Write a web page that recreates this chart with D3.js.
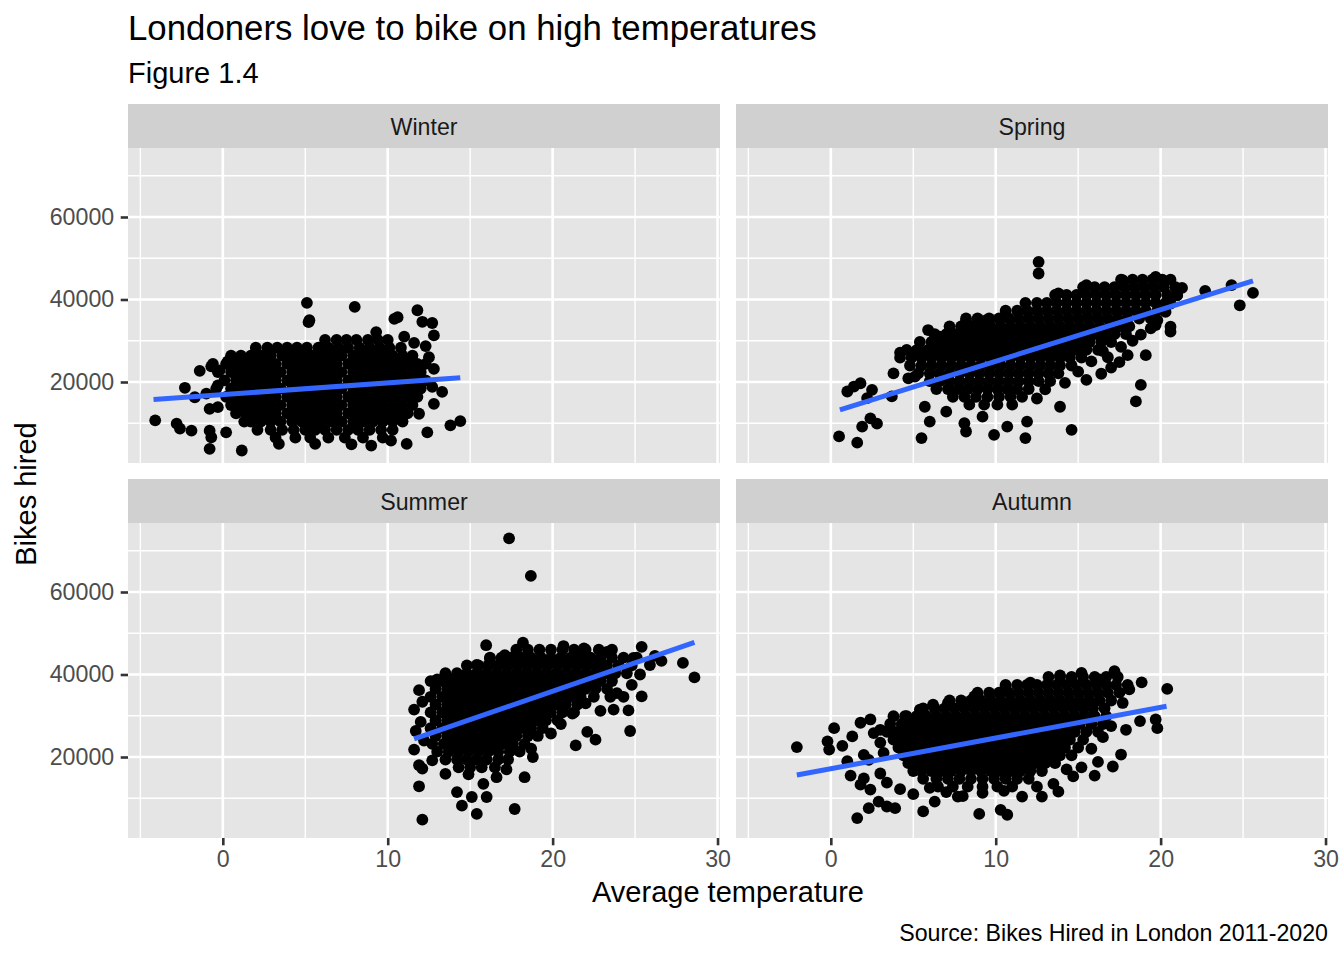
<!DOCTYPE html>
<html><head><meta charset="utf-8">
<script src="https://cdn.jsdelivr.net/npm/d3@7"></script>
<style>body{margin:0;background:#fff} text{font-family:"Liberation Sans",Arial,Helvetica,sans-serif}</style>
</head><body><svg id="chart" width="1344" height="960"></svg>
<script>
const seasons = ["Winter", "Spring", "Summer", "Autumn"];
const xTicks = [0, 10, 20, 30];
const xMinor = [-5, 5, 15, 25];
const yTicks = [20000, 40000, 60000];
const yMinor = [10000, 30000, 50000, 70000];
const xDomain = [-5.75, 30.15];
const yDomain = [364, 76727];

// Dense cores, read row by row: [bikes hired, [temperatures...]]
const winterRows = [
  [30200, [6.2, 6.9, 7.5, 8.1, 8.8, 9.4, 10.0]],
  [28300, [2.0, 2.7, 3.3, 3.9, 4.5, 5.1, 5.8, 6.4, 7.0, 7.6, 8.3, 8.9, 9.5, 10.1, 10.8]],
  [26400, [0.5, 1.1, 1.7, 2.3, 2.9, 3.6, 4.2, 4.8, 5.4, 6.0, 6.6, 7.2, 7.9, 8.5, 9.1, 9.7, 10.3, 10.9, 11.5]],
  [24400, [-0.6, 0.2, 0.8, 1.4, 2.0, 2.6, 3.2, 3.9, 4.5, 5.1, 5.7, 6.3, 6.9, 7.6, 8.2, 8.8, 9.4, 10.0, 10.6, 11.2, 11.8, 12.3]],
  [22400, [-0.3, 0.5, 1.1, 1.7, 2.3, 2.9, 3.5, 4.2, 4.8, 5.4, 6.0, 6.6, 7.2, 7.9, 8.5, 9.1, 9.7, 10.3, 10.9, 11.5, 12.0]],
  [20400, [0.1, 0.8, 1.4, 2.0, 2.6, 3.2, 3.9, 4.5, 5.1, 5.7, 6.3, 6.9, 7.6, 8.2, 8.8, 9.4, 10.0, 10.6, 11.2, 11.8, 12.3]],
  [18400, [-0.4, 0.5, 1.1, 1.7, 2.3, 2.9, 3.5, 4.2, 4.8, 5.4, 6.0, 6.6, 7.2, 7.9, 8.5, 9.1, 9.7, 10.3, 10.9, 11.5, 12.0]],
  [16400, [0.2, 0.8, 1.4, 2.0, 2.6, 3.2, 3.9, 4.5, 5.1, 5.7, 6.3, 6.9, 7.6, 8.2, 8.8, 9.4, 10.0, 10.6, 11.2, 11.8]],
  [14400, [0.5, 1.1, 1.7, 2.3, 2.9, 3.5, 4.2, 4.8, 5.4, 6.0, 6.6, 7.2, 7.9, 8.5, 9.1, 9.7, 10.3, 10.9, 11.5]],
  [12400, [0.8, 1.4, 2.0, 2.6, 3.2, 3.9, 4.5, 5.1, 5.7, 6.3, 6.9, 7.6, 8.2, 8.8, 9.4, 10.0, 10.6, 11.2]],
  [10400, [1.3, 1.7, 2.3, 2.9, 3.5, 4.2, 4.8, 5.4, 6.0, 6.6, 7.2, 7.9, 8.5, 9.1, 9.7, 10.3, 10.9]],
  [8400, [2.1, 2.9, 3.6, 4.3, 5.0, 5.6, 6.2, 6.9, 7.6, 8.2, 8.9, 9.6, 10.3]],
  [6500, [3.2, 4.4, 5.3, 6.4, 7.4, 8.5, 9.7]]
];
const winterSpread = [
  [-4.1, 10700], [-2.8, 9900], [-2.6, 8700], [-1.9, 8200], [-2.3, 18600], [-1.4, 22700],
  [-1.7, 16300], [-1.0, 17200], [-0.8, 8200], [-0.7, 6600], [-0.8, 3800], [1.15, 3400],
  [-0.7, 23800], [-0.2, 22800], [0.3, 25000], [-0.3, 19200], [-0.8, 13500], [-0.3, 13900],
  [0.2, 7800], [5.1, 39200], [5.25, 35000], [5.2, 34500], [8.0, 38200], [11.8, 37400],
  [10.4, 35300], [10.6, 35700], [12.1, 34600], [12.7, 34300], [12.8, 31300], [9.3, 32100],
  [13.8, 9500], [14.4, 10500], [13.3, 17600], [12.7, 18800], [12.8, 14700], [12.4, 7800],
  [11.9, 12300], [11.15, 5000], [12.8, 23200], [12.5, 26000], [11.5, 16800], [3.4, 5000],
  [5.6, 5000], [7.8, 4900], [9.0, 4600], [10.2, 5800], [11.0, 31000], [11.6, 29500], [12.3, 28700]
];

const springRows = [
  [44800, [17.6, 18.3, 18.9, 19.5, 20.1, 20.6]],
  [43000, [15.3, 16.0, 16.6, 17.2, 17.8, 18.4, 19.0, 19.6, 20.2, 20.9]],
  [41100, [13.6, 14.3, 14.9, 15.5, 16.1, 16.7, 17.3, 17.9, 18.5, 19.1, 19.7, 20.4, 21.0]],
  [39200, [11.8, 12.5, 13.1, 13.7, 14.3, 14.9, 15.5, 16.1, 16.7, 17.3, 17.9, 18.5, 19.1, 19.7, 20.3]],
  [37300, [10.6, 11.3, 11.9, 12.5, 13.1, 13.7, 14.3, 14.9, 15.5, 16.1, 16.7, 17.3, 17.9, 18.5, 19.1, 19.8]],
  [35400, [8.2, 8.9, 9.6, 10.2, 10.8, 11.4, 12.0, 12.6, 13.2, 13.8, 14.4, 15.0, 15.6, 16.2, 16.8, 17.4, 18.0, 18.7, 19.4]],
  [33500, [7.2, 7.9, 8.5, 9.1, 9.7, 10.3, 10.9, 11.5, 12.1, 12.7, 13.3, 13.9, 14.5, 15.1, 15.7, 16.3, 16.9, 17.5, 18.1]],
  [31600, [6.3, 7.0, 7.6, 8.2, 8.8, 9.4, 10.0, 10.6, 11.2, 11.8, 12.4, 13.0, 13.6, 14.2, 14.8, 15.4, 16.0, 16.6, 17.2, 17.9]],
  [29700, [5.4, 6.1, 6.7, 7.3, 7.9, 8.5, 9.1, 9.7, 10.3, 10.9, 11.5, 12.1, 12.7, 13.3, 13.9, 14.5, 15.1, 15.7, 16.4, 17.0]],
  [27800, [4.6, 5.3, 5.9, 6.5, 7.1, 7.7, 8.3, 8.9, 9.5, 10.1, 10.7, 11.3, 11.9, 12.5, 13.1, 13.7, 14.3, 14.9, 15.5, 16.2]],
  [25900, [4.2, 4.9, 5.5, 6.1, 6.7, 7.3, 7.9, 8.5, 9.1, 9.7, 10.3, 10.9, 11.5, 12.1, 12.7, 13.3, 13.9, 14.5, 15.2]],
  [24000, [4.8, 5.5, 6.1, 6.7, 7.3, 7.9, 8.5, 9.1, 9.7, 10.3, 10.9, 11.5, 12.1, 12.7, 13.3, 13.9, 14.6]],
  [22100, [5.3, 6.0, 6.6, 7.2, 7.8, 8.4, 9.0, 9.6, 10.2, 10.8, 11.4, 12.0, 12.6, 13.2, 13.8]],
  [20200, [6.0, 6.6, 7.2, 7.8, 8.4, 9.0, 9.6, 10.2, 10.8, 11.4, 12.0, 12.6, 13.3]],
  [18300, [6.4, 7.1, 7.7, 8.3, 8.9, 9.5, 10.1, 10.7, 11.3, 12.0]],
  [16400, [7.4, 8.1, 8.8, 9.5, 10.2, 10.9, 11.6]],
  [14500, [8.4, 9.3, 10.1, 11.0]]
];
const springSpread = [
  [12.6, 49100], [12.6, 46300], [22.7, 42100], [24.3, 43500], [25.6, 41600], [24.8, 38600],
  [20.6, 33400], [20.6, 32200], [19.7, 33800], [19.1, 26500], [18.8, 19300], [18.5, 15300],
  [0.5, 6800], [1.6, 5300], [1.9, 9200], [2.4, 11200], [2.8, 9900], [1.0, 17700], [1.4, 18900],
  [1.8, 19700], [2.5, 18100], [2.2, 16100], [3.7, 16500], [3.8, 22100], [4.2, 27100], [4.7, 20900],
  [5.1, 21300], [5.2, 27700], [5.9, 32600], [6.6, 31000], [5.5, 6400], [5.7, 14000], [6.0, 10400],
  [7.0, 12800], [8.1, 10000], [8.2, 8000], [9.2, 11600], [9.9, 7200], [10.7, 9200], [11.8, 6400],
  [11.9, 10400], [13.9, 14000], [14.6, 8400], [8.2, 34800], [9.3, 34800], [13.8, 41500],
  [15.5, 43500], [17.7, 44700], [19.7, 45500], [15.5, 20500], [16.4, 22000], [17.0, 23500],
  [17.5, 24800], [18.0, 26500], [16.8, 26000], [17.6, 28500], [18.3, 30000], [18.8, 31500],
  [19.4, 33000], [19.8, 35000], [20.3, 37000], [20.6, 39000], [21.0, 41000], [21.3, 42800],
  [12.5, 16000], [13.0, 18200], [14.2, 19800], [15.0, 22500], [15.8, 25000], [16.5, 27500]
];

const summerRows = [
  [46000, [17.8, 18.5, 19.2, 19.9, 20.6, 21.3, 22.0, 22.8, 23.6]],
  [44100, [16.2, 16.9, 17.5, 18.1, 18.7, 19.3, 19.9, 20.5, 21.1, 21.7, 22.3, 22.9, 23.6, 24.3, 25.1]],
  [42200, [14.8, 15.5, 16.1, 16.7, 17.3, 17.9, 18.5, 19.1, 19.7, 20.3, 20.9, 21.5, 22.1, 22.7, 23.3, 24.0, 24.8]],
  [40300, [13.5, 14.2, 14.8, 15.4, 16.0, 16.6, 17.2, 17.8, 18.4, 19.0, 19.6, 20.2, 20.8, 21.4, 22.0, 22.6, 23.2, 23.8, 24.5]],
  [38400, [12.6, 13.3, 13.9, 14.5, 15.1, 15.7, 16.3, 16.9, 17.5, 18.1, 18.7, 19.3, 19.9, 20.5, 21.1, 21.7, 22.3, 22.9, 23.6]],
  [36500, [12.9, 13.6, 14.2, 14.8, 15.4, 16.0, 16.6, 17.2, 17.8, 18.4, 19.0, 19.6, 20.2, 20.8, 21.4, 22.0, 22.6, 23.3]],
  [34600, [12.6, 13.3, 13.9, 14.5, 15.1, 15.7, 16.3, 16.9, 17.5, 18.1, 18.7, 19.3, 19.9, 20.5, 21.1, 21.7, 22.5, 23.5, 24.3]],
  [32700, [12.9, 13.6, 14.2, 14.8, 15.4, 16.0, 16.6, 17.2, 17.8, 18.4, 19.0, 19.6, 20.2, 20.8, 21.5]],
  [30800, [12.6, 13.3, 13.9, 14.5, 15.1, 15.7, 16.3, 16.9, 17.5, 18.1, 18.7, 19.3, 19.9, 20.6, 21.3]],
  [28900, [12.9, 13.6, 14.2, 14.8, 15.4, 16.0, 16.6, 17.2, 17.8, 18.4, 19.0, 19.6, 20.3]],
  [27000, [12.6, 13.3, 13.9, 14.5, 15.1, 15.7, 16.3, 16.9, 17.5, 18.1, 18.7, 19.4]],
  [25100, [12.9, 13.6, 14.2, 14.8, 15.4, 16.0, 16.6, 17.2, 17.8, 18.5, 19.1]],
  [23200, [12.7, 13.4, 14.0, 14.6, 15.2, 15.8, 16.4, 17.0, 17.6, 18.3]],
  [21300, [13.0, 13.7, 14.3, 14.9, 15.5, 16.1, 16.7, 17.4, 18.0]],
  [19400, [13.5, 14.2, 14.8, 15.4, 16.0, 16.7, 17.3]],
  [17500, [14.3, 15.0, 15.7, 16.5]]
];
const summerSpread = [
  [17.36, 73000], [18.68, 63900], [15.97, 47100], [18.2, 47700], [20.66, 46900], [21.9, 46300],
  [23.3, 45500], [25.4, 46700], [27.9, 42800], [28.6, 39300], [26.6, 43300], [25.9, 42300],
  [25.4, 34700], [24.7, 26300], [22.6, 24200], [22.1, 26100], [21.4, 22800], [22.9, 31200],
  [23.7, 31500], [24.6, 31300], [11.9, 36200], [12.1, 33400], [11.6, 31500], [11.7, 26300],
  [11.6, 21800], [11.9, 18000], [12.1, 17200], [11.9, 12900], [12.1, 4800], [13.0, 38800],
  [13.8, 38800], [12.7, 19200], [13.5, 15900], [14.2, 11500], [14.5, 8200], [15.4, 6200],
  [15.1, 10300], [16.0, 10300], [15.8, 13500], [16.6, 15100], [17.7, 7400], [18.3, 15100],
  [18.8, 20000], [19.9, 25700], [15.4, 42300], [16.2, 43900], [17.1, 44700], [12.2, 24000],
  [12.0, 28500], [20.5, 28000], [21.2, 30500], [22.0, 33000], [23.9, 35500], [24.8, 37500],
  [25.3, 40000], [26.2, 44500], [24.9, 44000], [14.9, 15800], [17.2, 17000], [18.7, 22000]
];

const autumnRows = [
  [39400, [13.2, 13.9, 14.6, 15.3, 16.0, 16.7, 17.4]],
  [37500, [10.6, 11.3, 11.9, 12.5, 13.1, 13.7, 14.3, 14.9, 15.5, 16.1, 16.7, 17.3, 18.0]],
  [35600, [8.9, 9.6, 10.2, 10.8, 11.4, 12.0, 12.6, 13.2, 13.8, 14.4, 15.0, 15.6, 16.2, 16.8, 17.5]],
  [33700, [7.2, 7.9, 8.5, 9.1, 9.7, 10.3, 10.9, 11.5, 12.1, 12.7, 13.3, 13.9, 14.5, 15.1, 15.7, 16.3, 17.0]],
  [31800, [5.6, 6.3, 6.9, 7.5, 8.1, 8.7, 9.3, 9.9, 10.5, 11.1, 11.7, 12.3, 12.9, 13.5, 14.1, 14.7, 15.3, 15.9, 16.6]],
  [29900, [4.5, 5.2, 5.8, 6.4, 7.0, 7.6, 8.2, 8.8, 9.4, 10.0, 10.6, 11.2, 11.8, 12.4, 13.0, 13.6, 14.2, 14.8, 15.4, 16.0, 16.7]],
  [28000, [3.6, 4.3, 4.9, 5.5, 6.1, 6.7, 7.3, 7.9, 8.5, 9.1, 9.7, 10.3, 10.9, 11.5, 12.1, 12.7, 13.3, 13.9, 14.5, 15.1, 15.8, 16.5]],
  [26100, [3.4, 4.0, 4.6, 5.2, 5.8, 6.4, 7.0, 7.6, 8.2, 8.8, 9.4, 10.0, 10.6, 11.2, 11.8, 12.4, 13.0, 13.6, 14.2, 14.8, 15.5, 16.2]],
  [24200, [3.8, 4.3, 4.9, 5.5, 6.1, 6.7, 7.3, 7.9, 8.5, 9.1, 9.7, 10.3, 10.9, 11.5, 12.1, 12.7, 13.3, 13.9, 14.5, 15.3]],
  [22300, [4.1, 4.6, 5.2, 5.8, 6.4, 7.0, 7.6, 8.2, 8.8, 9.4, 10.0, 10.6, 11.2, 11.8, 12.4, 13.0, 13.6, 14.2, 15.0]],
  [20400, [4.4, 4.9, 5.5, 6.1, 6.7, 7.3, 7.9, 8.5, 9.1, 9.7, 10.3, 10.9, 11.5, 12.1, 12.7, 13.3, 13.9, 14.6]],
  [18500, [4.7, 5.2, 5.8, 6.4, 7.0, 7.6, 8.2, 8.8, 9.4, 10.0, 10.6, 11.2, 11.8, 12.4, 13.0, 13.6]],
  [16600, [5.0, 5.5, 6.1, 6.7, 7.3, 7.9, 8.5, 9.1, 9.7, 10.3, 10.9, 11.5, 12.1, 12.8]],
  [14700, [5.6, 6.4, 7.1, 7.8, 8.5, 9.2, 9.9, 10.6, 11.3, 12.0]],
  [12800, [6.5, 7.4, 8.3, 9.2, 10.1, 11.0]]
];
const autumnSpread = [
  [-2.06, 22400], [0.2, 27000], [-0.2, 23800], [-0.1, 21800], [0.7, 22700], [1.2, 15500],
  [1.6, 5200], [2.3, 7600], [2.9, 9200], [3.4, 8000], [3.9, 7600], [1.8, 13300], [2.4, 12100],
  [1.3, 25000], [1.8, 28300], [2.4, 29100], [3.0, 26600], [2.3, 19300], [3.8, 29900], [5.6, 6800],
  [6.3, 9200], [7.7, 10400], [9.0, 6200], [10.3, 7200], [10.7, 6000], [11.6, 10400], [12.8, 10400],
  [13.8, 11600], [14.7, 15300], [16.0, 15500], [17.1, 17700], [17.6, 20600], [17.9, 26600],
  [18.75, 28700], [19.8, 27000], [19.7, 29100], [20.4, 36500], [18.85, 38100], [17.2, 40800],
  [15.2, 40400], [13.9, 39800], [12.1, 38000], [10.6, 37200], [8.7, 34700], [7.1, 33100],
  [6.2, 32700], [5.4, 31500], [4.6, 29900], [18.1, 36400], [17.7, 33100], [16.3, 38800],
  [2.0, 14800], [3.0, 16000], [3.4, 13800], [4.2, 12200], [5.0, 11000], [6.0, 12500], [7.0, 11500],
  [8.0, 10500], [9.2, 11300], [10.5, 11800], [12.5, 12800], [13.5, 13500], [14.3, 17000],
  [15.2, 17500], [16.2, 18800], [15.8, 22000], [16.5, 24800], [17.0, 27500], [3.2, 21000],
  [3.0, 23500], [2.6, 25800], [2.0, 20500], [1.0, 19000]
];

// Linear fits (geom_smooth, method = "lm"): endpoints
const trendWinter = [[-4.2, 15750], [14.4, 21050]];
const trendSpring = [[0.55, 13240], [25.6, 44500]];
const trendSummer = [[11.6, 24370], [28.6, 47780]];
const trendAutumn = [[-2.06, 15620], [20.36, 32300]];

const rowsBySeason = [winterRows, springRows, summerRows, autumnRows];
const spreadBySeason = [winterSpread, springSpread, summerSpread, autumnSpread];
const trendBySeason = [trendWinter, trendSpring, trendSummer, trendAutumn];

const svg = d3.select("#chart");
const panelW = 592, panelH = 315, stripH = 44;
const colX = [128, 736], rowY = [148, 523];
const x = d3.scaleLinear().domain(xDomain).range([0, panelW]);
const y = d3.scaleLinear().domain(yDomain).range([panelH, 0]);
const FONT = '"Liberation Sans", Arial, Helvetica, sans-serif';
const SMALL = 23.2;

seasons.forEach((name, i) => {
  const col = i % 2, row = Math.floor(i / 2);
  const g = svg.append("g").attr("transform", `translate(${colX[col]},${rowY[row]})`);
  g.append("rect").attr("x", 0).attr("y", -stripH).attr("width", panelW).attr("height", stripH).attr("fill", "#D0D0D0");
  g.append("text").attr("x", panelW / 2).attr("y", -13).attr("text-anchor", "middle")
    .attr("font-size", SMALL).attr("fill", "#1A1A1A").text(name);
  g.append("rect").attr("width", panelW).attr("height", panelH).attr("fill", "#E5E5E5");
  const grid = g.append("g");
  xMinor.forEach(v => grid.append("line").attr("x1", x(v)).attr("x2", x(v)).attr("y1", 0).attr("y2", panelH).attr("stroke", "#fff").attr("stroke-width", 1.4));
  yMinor.forEach(v => grid.append("line").attr("y1", y(v)).attr("y2", y(v)).attr("x1", 0).attr("x2", panelW).attr("stroke", "#fff").attr("stroke-width", 1.4));
  xTicks.forEach(v => grid.append("line").attr("x1", x(v)).attr("x2", x(v)).attr("y1", 0).attr("y2", panelH).attr("stroke", "#fff").attr("stroke-width", 2.6));
  yTicks.forEach(v => grid.append("line").attr("y1", y(v)).attr("y2", y(v)).attr("x1", 0).attr("x2", panelW).attr("stroke", "#fff").attr("stroke-width", 2.6));

  const pts = rowsBySeason[i].flatMap(([b, ts]) => ts.map(t => [t, b])).concat(spreadBySeason[i]);
  g.append("g").selectAll("circle").data(pts).join("circle")
    .attr("cx", d => x(d[0])).attr("cy", d => y(d[1])).attr("r", 5.9).attr("fill", "#000");

  const line = d3.line().x(d => x(d[0])).y(d => y(d[1]));
  g.append("path").attr("d", line(trendBySeason[i])).attr("fill", "none")
    .attr("stroke", "#3366FF").attr("stroke-width", 5);

  if (row === 1) {
    const ax = g.append("g").attr("transform", `translate(0,${panelH})`)
      .call(d3.axisBottom(x).tickValues(xTicks).tickSize(7.3).tickPadding(5.5).tickFormat(d3.format("d")));
    ax.select(".domain").remove();
    ax.selectAll("line").attr("stroke", "#333").attr("stroke-width", 2.6);
    ax.selectAll("text").attr("font-size", SMALL).attr("fill", "#4D4D4D").attr("font-family", FONT);
  }
  if (col === 0) {
    const ay = g.append("g")
      .call(d3.axisLeft(y).tickValues(yTicks).tickSize(7.3).tickPadding(6.5).tickFormat(d3.format("d")));
    ay.select(".domain").remove();
    ay.selectAll("line").attr("stroke", "#333").attr("stroke-width", 2.6);
    ay.selectAll("text").attr("font-size", SMALL).attr("fill", "#4D4D4D").attr("font-family", FONT);
  }
});

svg.append("text").attr("x", 128).attr("y", 40).attr("font-size", 34.8).attr("fill", "#000")
  .text("Londoners love to bike on high temperatures");
svg.append("text").attr("x", 128).attr("y", 83).attr("font-size", 29).attr("fill", "#000").text("Figure 1.4");
svg.append("text").attr("x", 728).attr("y", 902).attr("text-anchor", "middle").attr("font-size", 29)
  .attr("fill", "#000").text("Average temperature");
svg.append("text").attr("transform", "translate(36,494) rotate(-90)").attr("text-anchor", "middle")
  .attr("font-size", 29).attr("fill", "#000").text("Bikes hired");
svg.append("text").attr("x", 1328).attr("y", 941).attr("text-anchor", "end").attr("font-size", SMALL)
  .attr("fill", "#000").text("Source: Bikes Hired in London 2011-2020");
</script></body></html>
